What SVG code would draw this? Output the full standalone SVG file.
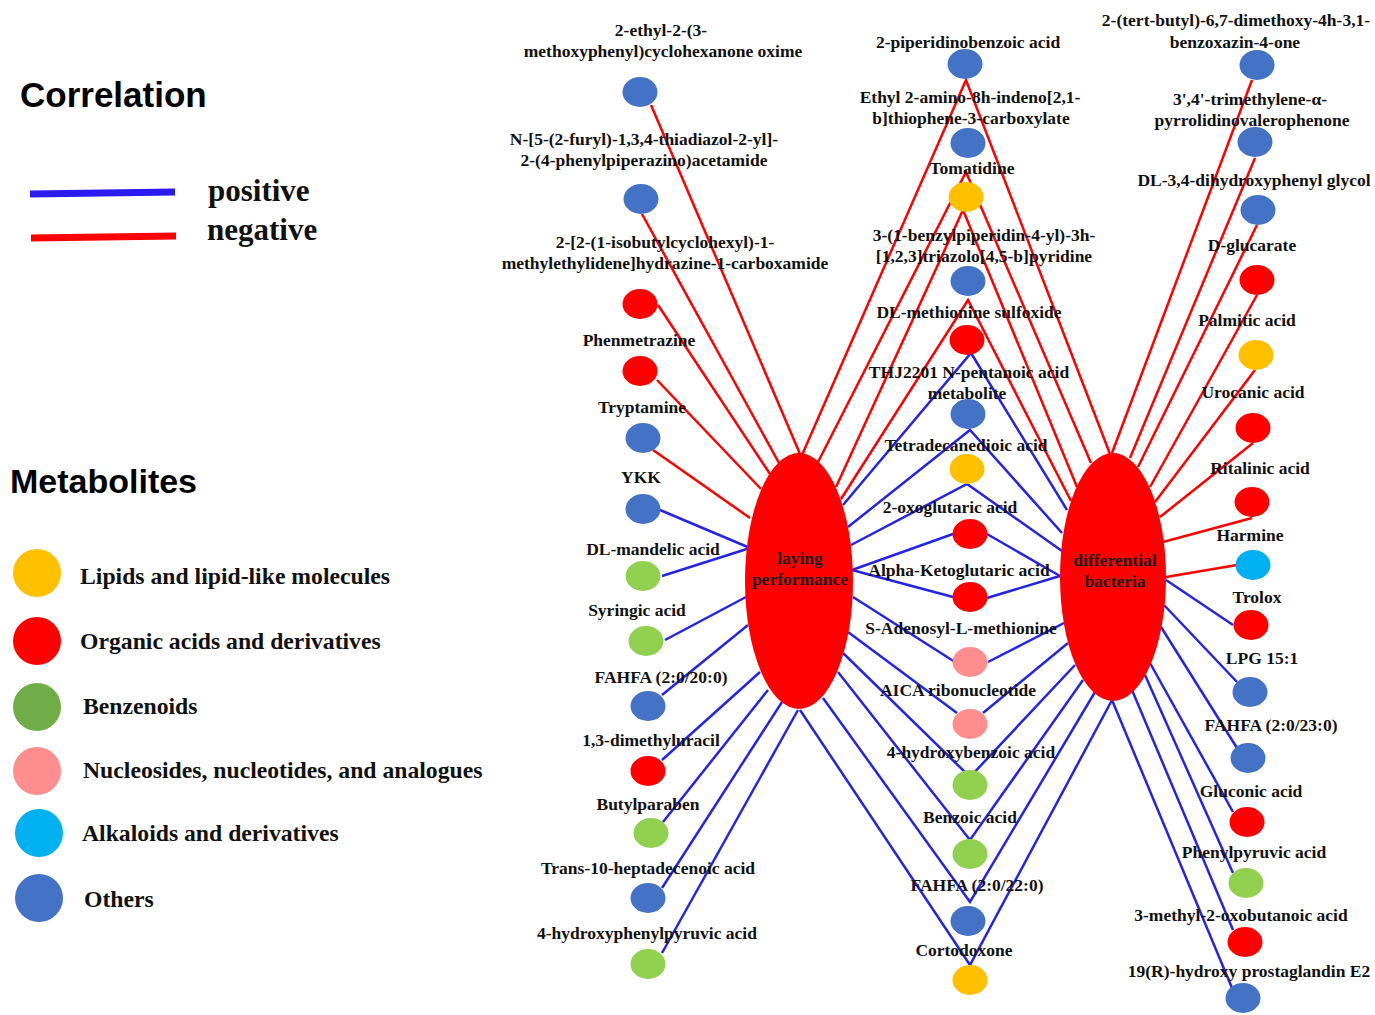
<svg xmlns="http://www.w3.org/2000/svg" width="1375" height="1015" viewBox="0 0 1375 1015">
<style>
.pos{stroke:#2424E8;stroke-width:2.5;fill:none}
.neg{stroke:#FF0000;stroke-width:2.5;fill:none}
.lbl{font-family:"Liberation Serif","Times New Roman",serif;font-weight:bold;font-size:17.5px;text-anchor:middle;fill:#111}
.hub{fill:#FF0000}
.hubt{font-family:"Liberation Serif","Times New Roman",serif;font-weight:bold;font-size:17.5px;text-anchor:middle;fill:#1a1a1a}
.title{font-family:"Liberation Sans",Arial,sans-serif;font-weight:bold;font-size:35px;fill:#000}
.leg{font-family:"Liberation Serif","Times New Roman",serif;font-weight:bold;font-size:23.7px;fill:#111}
.legc{font-family:"Liberation Serif","Times New Roman",serif;font-weight:bold;font-size:31px;fill:#111}
.b{fill:#4472C4}.r{fill:#FF0000}.y{fill:#FFC000}.g{fill:#92D050}.p{fill:#FF8F8F}.c{fill:#00B0F0}
</style>
<defs>
<ellipse id="n" cx="0" cy="0" rx="17.5" ry="15"/>
</defs>
<rect width="1375" height="1015" fill="#fff"/>

<g id="legend-correlation">
<text class="title" x="20" y="107">Correlation</text>
<line x1="30" y1="194" x2="175" y2="192" stroke="#2B1BF0" stroke-width="7"/>
<line x1="31" y1="238" x2="176" y2="236" stroke="#FF0000" stroke-width="7"/>
<text class="legc" x="208" y="201">positive</text>
<text class="legc" x="207" y="240">negative</text>
</g>

<g id="legend-metabolites">
<text class="title" x="10" y="493" style="font-size:34px">Metabolites</text>
<circle cx="37" cy="573" r="24" fill="#FFC000"/>
<circle cx="37" cy="641" r="24" fill="#FF0000"/>
<circle cx="37" cy="707" r="24" fill="#70AD47"/>
<circle cx="37" cy="771" r="24" fill="#FF8F8F"/>
<circle cx="39" cy="833" r="24" fill="#00B0F0"/>
<circle cx="39" cy="898" r="24" fill="#4472C4"/>
<text class="leg" x="80" y="584">Lipids and lipid-like molecules</text>
<text class="leg" x="80" y="649">Organic acids and derivatives</text>
<text class="leg" x="83" y="714">Benzenoids</text>
<text class="leg" x="83" y="778">Nucleosides, nucleotides, and analogues</text>
<text class="leg" x="82" y="841">Alkaloids and derivatives</text>
<text class="leg" x="84" y="907">Others</text>
</g>

<g id="connectors">
<line class="neg" x1="651" y1="105" x2="800" y2="454"/>
<line class="neg" x1="642" y1="214" x2="779" y2="463"/>
<line class="neg" x1="658" y1="305" x2="770" y2="474"/>
<line class="neg" x1="657" y1="380" x2="761" y2="489"/>
<line class="neg" x1="653" y1="450" x2="750" y2="518"/>
<line class="pos" x1="660" y1="510" x2="750" y2="548"/>
<line class="pos" x1="662" y1="576" x2="750" y2="548"/>
<line class="pos" x1="665" y1="640" x2="746" y2="597"/>
<line class="pos" x1="662" y1="695" x2="748" y2="625"/>
<line class="pos" x1="662" y1="760" x2="760" y2="672"/>
<line class="pos" x1="663" y1="822" x2="768" y2="690"/>
<line class="pos" x1="662" y1="888" x2="782" y2="702"/>
<line class="pos" x1="662" y1="953" x2="798" y2="710"/>

<polyline class="neg" points="802,455 966,80 1110,454"/>
<polyline class="neg" points="818,462 966,172 1091,463"/>
<polyline class="neg" points="836,487 963,210 1077,487"/>
<polyline class="neg" points="841,499 968,300 1071,501"/>

<polyline class="pos" points="843,505 971,353 1067,510"/>
<polyline class="pos" points="848,527 970,430 1062,533"/>
<polyline class="pos" points="851,545 967,484 1062,551"/>
<line class="pos" x1="953" y1="534" x2="852" y2="570"/>
<line class="pos" x1="987" y1="534" x2="1060" y2="576"/>
<line class="pos" x1="953" y1="597" x2="852" y2="570"/>
<line class="pos" x1="987" y1="598" x2="1060" y2="576"/>
<line class="pos" x1="955" y1="662" x2="853" y2="597"/>
<line class="pos" x1="988" y1="662" x2="1064" y2="623"/>
<line class="pos" x1="957" y1="713" x2="848" y2="632"/>
<line class="pos" x1="983" y1="713" x2="1068" y2="643"/>
<polyline class="pos" points="843,653 970,777 1075,665"/>
<polyline class="pos" points="838,672 970,840 1083,680"/>
<polyline class="pos" points="823,698 970,902 1095,692"/>
<polyline class="pos" points="800,710 970,965 1112,700"/>

<line class="neg" x1="1252" y1="80" x2="1112" y2="453"/>
<line class="neg" x1="1255" y1="158" x2="1130" y2="458"/>
<line class="neg" x1="1257" y1="225" x2="1138" y2="467"/>
<line class="neg" x1="1257" y1="295" x2="1150" y2="487"/>
<line class="neg" x1="1255" y1="370" x2="1155" y2="502"/>
<line class="neg" x1="1253" y1="443" x2="1160" y2="517"/>
<line class="neg" x1="1252" y1="518" x2="1163" y2="542"/>
<line class="neg" x1="1237" y1="565" x2="1166" y2="577"/>
<line class="pos" x1="1233" y1="625" x2="1166" y2="580"/>
<line class="pos" x1="1237" y1="682" x2="1164" y2="605"/>
<line class="pos" x1="1237" y1="748" x2="1161" y2="627"/>
<line class="pos" x1="1233" y1="812" x2="1150" y2="663"/>
<line class="pos" x1="1233" y1="873" x2="1145" y2="675"/>
<line class="pos" x1="1233" y1="930" x2="1132" y2="690"/>
<line class="pos" x1="1232" y1="988" x2="1112" y2="700"/>
</g>

<g id="hub-laying">
<ellipse class="hub" cx="799" cy="581" rx="54" ry="128"/>
<text class="hubt" x="800" y="564">laying</text>
<text class="hubt" x="800" y="585">performance</text>
</g>
<g id="hub-bacteria">
<ellipse class="hub" cx="1113" cy="577" rx="53" ry="124"/>
<text class="hubt" x="1115" y="566">differential</text>
<text class="hubt" x="1115" y="587">bacteria</text>
</g>

<g id="m-l1"><use href="#n" class="b" x="640" y="92"/><text class="lbl" x="661" y="36">2-ethyl-2-(3-</text><text class="lbl" x="663" y="57">methoxyphenyl)cyclohexanone oxime</text></g>
<g id="m-l2"><use href="#n" class="b" x="641" y="199"/><text class="lbl" x="644" y="145">N-[5-(2-furyl)-1,3,4-thiadiazol-2-yl]-</text><text class="lbl" x="644" y="166">2-(4-phenylpiperazino)acetamide</text></g>
<g id="m-l3"><use href="#n" class="r" x="640" y="304"/><text class="lbl" x="665" y="248">2-[2-(1-isobutylcyclohexyl)-1-</text><text class="lbl" x="665" y="269">methylethylidene]hydrazine-1-carboxamide</text></g>
<g id="m-l4"><use href="#n" class="r" x="640" y="371"/><text class="lbl" x="639" y="346">Phenmetrazine</text></g>
<g id="m-l5"><use href="#n" class="b" x="643" y="438"/><text class="lbl" x="642" y="413">Tryptamine</text></g>
<g id="m-l6"><use href="#n" class="b" x="643" y="509"/><text class="lbl" x="641" y="483">YKK</text></g>
<g id="m-l7"><use href="#n" class="g" x="643" y="576"/><text class="lbl" x="653" y="555">DL-mandelic acid</text></g>
<g id="m-l8"><use href="#n" class="g" x="646" y="641"/><text class="lbl" x="637" y="616">Syringic acid</text></g>
<g id="m-l9"><use href="#n" class="b" x="648" y="706"/><text class="lbl" x="661" y="683">FAHFA (2:0/20:0)</text></g>
<g id="m-l10"><use href="#n" class="r" x="648" y="771"/><text class="lbl" x="651" y="746">1,3-dimethyluracil</text></g>
<g id="m-l11"><use href="#n" class="g" x="651" y="833"/><text class="lbl" x="648" y="810">Butylparaben</text></g>
<g id="m-l12"><use href="#n" class="b" x="648" y="898"/><text class="lbl" x="648" y="874">Trans-10-heptadecenoic acid</text></g>
<g id="m-l13"><use href="#n" class="g" x="648" y="964"/><text class="lbl" x="647" y="939">4-hydroxyphenylpyruvic acid</text></g>

<g id="m-c1"><use href="#n" class="b" x="965" y="64"/><text class="lbl" x="968" y="48">2-piperidinobenzoic acid</text></g>
<g id="m-c2"><use href="#n" class="b" x="968" y="143"/><text class="lbl" x="970" y="103">Ethyl 2-amino-8h-indeno[2,1-</text><text class="lbl" x="971" y="124">b]thiophene-3-carboxylate</text></g>
<g id="m-c3"><use href="#n" class="y" x="966" y="197"/><text class="lbl" x="972" y="174">Tomatidine</text></g>
<g id="m-c4"><use href="#n" class="b" x="968" y="281"/><text class="lbl" x="984" y="241">3-(1-benzylpiperidin-4-yl)-3h-</text><text class="lbl" x="984" y="262">[1,2,3]triazolo[4,5-b]pyridine</text></g>
<g id="m-c5"><use href="#n" class="r" x="967" y="340"/><text class="lbl" x="969" y="318">DL-methionine sulfoxide</text></g>
<g id="m-c6"><use href="#n" class="b" x="968" y="414"/><text class="lbl" x="969" y="378">THJ2201 N-pentanoic acid</text><text class="lbl" x="967" y="399">metabolite</text></g>
<g id="m-c7"><use href="#n" class="y" x="967" y="469"/><text class="lbl" x="966" y="451">Tetradecanedioic acid</text></g>
<g id="m-c8"><use href="#n" class="r" x="970" y="534"/><text class="lbl" x="950" y="513">2-oxoglutaric acid</text></g>
<g id="m-c9"><use href="#n" class="r" x="970" y="597"/><text class="lbl" x="959" y="576">Alpha-Ketoglutaric acid</text></g>
<g id="m-c10"><use href="#n" class="p" x="970" y="662"/><text class="lbl" x="961" y="634">S-Adenosyl-L-methionine</text></g>
<g id="m-c11"><use href="#n" class="p" x="970" y="724"/><text class="lbl" x="958" y="696">AICA ribonucleotide</text></g>
<g id="m-c12"><use href="#n" class="g" x="970" y="785"/><text class="lbl" x="971" y="758">4-hydroxybenzoic acid</text></g>
<g id="m-c13"><use href="#n" class="g" x="970" y="854"/><text class="lbl" x="970" y="823">Benzoic acid</text></g>
<g id="m-c14"><use href="#n" class="b" x="968" y="921"/><text class="lbl" x="977" y="891">FAHFA (2:0/22:0)</text></g>
<g id="m-c15"><use href="#n" class="y" x="970" y="980"/><text class="lbl" x="964" y="956">Cortodoxone</text></g>

<g id="m-r1"><use href="#n" class="b" x="1257" y="65"/><text class="lbl" x="1236" y="26">2-(tert-butyl)-6,7-dimethoxy-4h-3,1-</text><text class="lbl" x="1235" y="48">benzoxazin-4-one</text></g>
<g id="m-r2"><use href="#n" class="b" x="1255" y="142"/><text class="lbl" x="1250" y="105">3',4'-trimethylene-α-</text><text class="lbl" x="1252" y="126">pyrrolidinovalerophenone</text></g>
<g id="m-r3"><use href="#n" class="b" x="1258" y="210"/><text class="lbl" x="1254" y="186">DL-3,4-dihydroxyphenyl glycol</text></g>
<g id="m-r4"><use href="#n" class="r" x="1257" y="280"/><text class="lbl" x="1252" y="251">D-glucarate</text></g>
<g id="m-r5"><use href="#n" class="y" x="1256" y="355"/><text class="lbl" x="1247" y="326">Palmitic acid</text></g>
<g id="m-r6"><use href="#n" class="r" x="1253" y="428"/><text class="lbl" x="1253" y="398">Urocanic acid</text></g>
<g id="m-r7"><use href="#n" class="r" x="1252" y="502"/><text class="lbl" x="1260" y="474">Ritalinic acid</text></g>
<g id="m-r8"><use href="#n" class="c" x="1253" y="565"/><text class="lbl" x="1250" y="541">Harmine</text></g>
<g id="m-r9"><use href="#n" class="r" x="1251" y="625"/><text class="lbl" x="1257" y="603">Trolox</text></g>
<g id="m-r10"><use href="#n" class="b" x="1250" y="692"/><text class="lbl" x="1262" y="664">LPG 15:1</text></g>
<g id="m-r11"><use href="#n" class="b" x="1248" y="758"/><text class="lbl" x="1271" y="731">FAHFA (2:0/23:0)</text></g>
<g id="m-r12"><use href="#n" class="r" x="1247" y="822"/><text class="lbl" x="1251" y="797">Gluconic acid</text></g>
<g id="m-r13"><use href="#n" class="g" x="1246" y="883"/><text class="lbl" x="1254" y="858">Phenylpyruvic acid</text></g>
<g id="m-r14"><use href="#n" class="r" x="1245" y="942"/><text class="lbl" x="1241" y="921">3-methyl-2-oxobutanoic acid</text></g>
<g id="m-r15"><use href="#n" class="b" x="1243" y="998"/><text class="lbl" x="1249" y="977">19(R)-hydroxy prostaglandin E2</text></g>
</svg>
